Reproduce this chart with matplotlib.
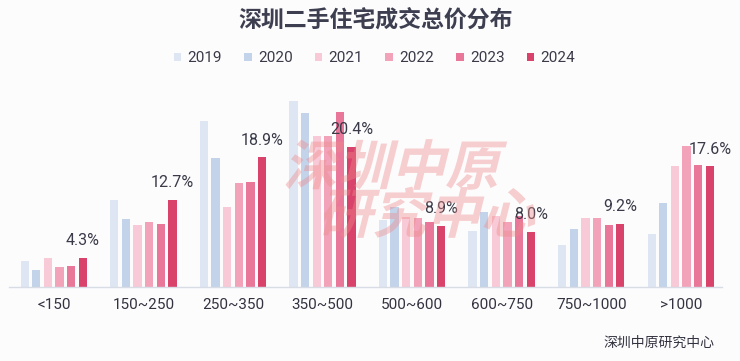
import matplotlib
matplotlib.use('Agg')
import matplotlib.pyplot as plt
import numpy as np
from matplotlib.textpath import TextPath
from matplotlib.patches import PathPatch
from matplotlib.font_manager import FontProperties
from matplotlib.transforms import Affine2D, IdentityTransform

plt.rcParams['font.family'] = ['Noto Sans CJK SC', 'DejaVu Sans']
num_font = ['Roboto', 'Noto Sans CJK SC', 'DejaVu Sans']

# data (share of deals, %)
categories = ['<150', '150~250', '250~350', '350~500', '500~600', '600~750', '750~1000', '>1000']
years = ['2019', '2020', '2021', '2022', '2023', '2024']
v2019 = [3.8, 12.7, 24.2, 27.1, 9.8, 8.2, 6.1, 7.7]
v2020 = [2.5, 9.9, 18.8, 25.4, 11.7, 10.9, 8.4, 12.2]
v2021 = [4.3, 9.1, 11.7, 22.0, 10.2, 10.3, 10.1, 17.6]
v2022 = [2.9, 9.5, 15.1, 22.0, 10.1, 9.5, 10.1, 20.5]
v2023 = [3.1, 9.2, 15.3, 25.5, 9.5, 10.4, 9.0, 17.8]
v2024 = [4.3, 12.7, 18.9, 20.4, 8.9, 8.0, 9.2, 17.6]
series = [v2019, v2020, v2021, v2022, v2023, v2024]
colors = ['#dfe6f3', '#c3d3ea', '#f8c9d6', '#f2a3ba', '#e8779a', '#d9426a']

fig = plt.figure(figsize=(7.4, 3.61), dpi=100, facecolor='#fcfcfd')
ax = fig.add_axes([9/740, 74/361, 713/740, 192/361])
ax.set_facecolor('#fcfcfd')

x = np.arange(len(categories))
step = 0.13
w = 0.093
for i, (vals, c) in enumerate(zip(series, colors)):
    ax.bar(x + (i - 2.5) * step, vals, width=w, color=c, label=years[i], zorder=2)

# labels over 2024 bars
for xi, v in zip(x, v2024):
    ax.annotate(f'{v:.1f}%', (xi + 2.5 * step, v), xytext=(0, 7), textcoords='offset points',
                ha='center', va='bottom', fontsize=11.5, color='#3a3a48', zorder=5,
                family=num_font)

ax.set_xlim(-0.5, 7.46)
ax.set_ylim(0, 28)
ax.set_xticks(x)
ax.set_xticklabels(categories, fontsize=11, color='#333340', family=num_font)
ax.tick_params(axis='x', length=0, pad=8)
ax.set_yticks([])
for s in ['top', 'right', 'left']:
    ax.spines[s].set_visible(False)
ax.spines['bottom'].set_color('#d8dce4')
ax.spines['bottom'].set_linewidth(1)

fig.text(0.508, 0.945, '深圳二手住宅成交总价分布', ha='center', va='center',
         fontsize=16.5, fontweight='bold', color='#3d3f50')

leg = fig.legend(loc='center', bbox_to_anchor=(0.506, 0.838), ncol=6, frameon=False,
                 handlelength=0.5, handleheight=0.5, handletextpad=0.4,
                 columnspacing=1.45, labelcolor='#3a3a48',
                 prop=FontProperties(family=num_font, size=11))

fig.text(0.965, 0.05, '深圳中原研究中心', ha='right', va='center', fontsize=10, color='#333340')

# watermark
fp = FontProperties(family='Noto Sans CJK SC', weight='heavy')
for txt, x0, y0 in [('深圳中原', 283, 176), ('研究中心', 318, 128)]:
    tp = TextPath((0, 0), txt, size=54, prop=fp)
    tr = Affine2D().skew_deg(14, 0).translate(x0, y0) + IdentityTransform()
    patch = PathPatch(tp, transform=tr, facecolor='#ee8a8a', edgecolor='none', alpha=0.4, zorder=10)
    fig.patches.append(patch)

fig.savefig('out.png', dpi=100, facecolor=fig.get_facecolor())
